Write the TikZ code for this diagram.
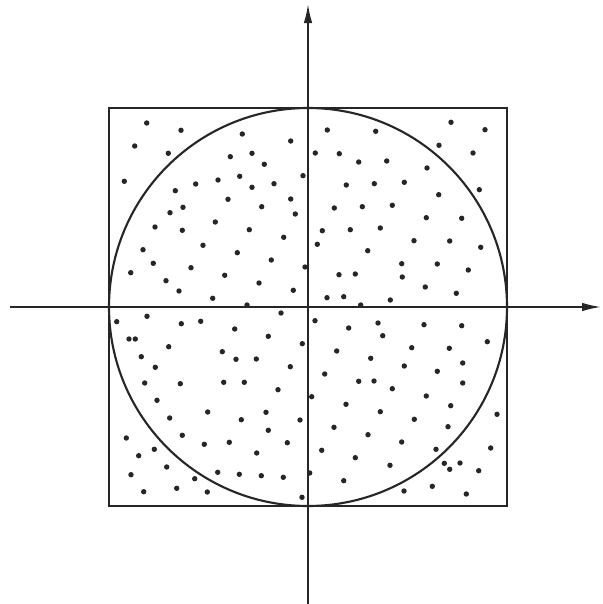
\documentclass[tikz,border=0pt]{standalone}
\usetikzlibrary{arrows.meta}

\tikzset{
  frame/.style={draw=black!85, line width=0.6pt},
  axis/.style={draw=black!85, line width=0.5pt, -{Latex[length=1.9mm, width=0.85mm]}},
  sample/.style={fill=black!85}
}

\begin{document}
\begin{tikzpicture}[x=0.01cm, y=-0.01cm]
    \useasboundingbox (0,0) rectangle (602,604);

    % square and inscribed circle
    \coordinate (o) at (308,307);
    \draw[frame] (109,108) rectangle (507,506);
    \draw[frame] (o) circle[radius=199];

    % axes
    \coordinate (xl) at (10,307);
    \coordinate (xr) at (601,307);
    \coordinate (yb) at (308,604);
    \coordinate (yt) at (308,4);
    \draw[axis] (xl) -- (xr);
    \draw[axis] (yb) -- (yt);

    % random samples
    \foreach \px/\py in {
      146.7/123, 181/130.3, 242.3/134, 290.7/141, 134.7/146, 168.3/153.3,
      230.3/156.7, 252/153.3, 264.3/164.3, 124.3/181.3, 303/175.7, 195.7/184,
      218/180, 239.7/176.3, 274/183.7, 175.3/190.7, 252/187.3, 228/199.3,
      290.7/199, 183/207.3, 170/212.7, 261.7/206.7, 295.3/214, 215.3/222,
      155/227, 182.3/230.3, 249.3/229.7, 283.7/237.3, 143/249.7, 203/245.3,
      237.3/252.7, 271.3/260, 153.3/263.3, 191/267.7, 305/267, 130.7/272.7,
      224.7/275.3, 166/280.7, 259/283, 179/291, 293.3/290.3, 212.7/298.3,
      247/305,
      451/122.3, 327.3/130, 375.7/131.3, 485/129.7, 439/145.3, 315.3/153,
      339.3/153.7, 473/153, 358.7/162, 386.7/161, 427/168, 346.3/185,
      374.3/183.7, 404.3/182.3, 479.3/189.7, 438.7/194.7, 334.3/208, 362.3/206.7,
      392.3/205.3, 426.3/217.7, 461.7/218.3, 322.3/230.7, 350.3/229.7, 380.3/228,
      317.3/244.3, 414/240.7, 449.7/241, 480.7/247.3, 367.7/250.7, 401.7/263.7,
      437.3/264, 468.3/270, 339/274.7, 355.3/274, 402.3/277, 425.3/287,
      456.3/293.3, 327/297.7, 343.7/296.7, 390.3/300, 360.7/305,
      281/313, 147/316.3, 116.7/321.7, 181.3/323.7, 200.7/321.3, 234.7/329,
      268.3/336.3, 129/339, 135.3/339, 302.3/343.7, 168.7/346.7, 222.3/351.7,
      141.3/356.7, 236/359.3, 256.3/359, 155.3/367.3, 290.3/366.7, 144.7/383,
      180.3/383.7, 223.7/382.3, 244.3/382.3, 278/389.7, 157/400.3, 207.7/412,
      266/412.3, 169.7/418, 241.3/419.7, 300/420, 268.3/430.3, 126.3/438,
      182.3/435.3, 204.3/444.3, 229.3/442.3, 287.3/442.7, 154.3/449.3, 138.7/455.7,
      256.7/453, 166.7/467, 131/474.7, 217.7/472.3, 239.3/474.3, 261.3/475.7,
      283.3/477.3, 194.7/478.7, 143.7/491.7, 176.7/488.3, 207.3/492, 302/497.3,
      315/320.7, 348.7/328, 378/323, 382.7/335.7, 424/324.7, 461.7/325.7,
      487.3/341.7, 336.7/351, 411.7/347.7, 449.3/348.3, 370.7/358.3, 404.3/366,
      462.7/363, 324.7/374, 437.3/371.3, 358.7/381.3, 374/381, 462.7/383,
      392.3/388.7, 311.7/396.7, 426.3/396, 346/404.3, 450.7/405.7, 497/414.3,
      380.3/411.7, 414.3/419.3, 334/427.3, 448/426.7, 368/434.7, 401.7/442,
      321.7/450.3, 436/449.3, 490.7/448, 355.3/457.7, 444.3/463.3, 460/463,
      449.7/469.3, 478.7/470.7, 390/465.3, 309.7/473, 343.7/480.7, 432.3/486.3,
      404/491, 466.3/494}
      \fill[sample] (\px,\py) circle[radius=2.7];
\end{tikzpicture}
\end{document}
